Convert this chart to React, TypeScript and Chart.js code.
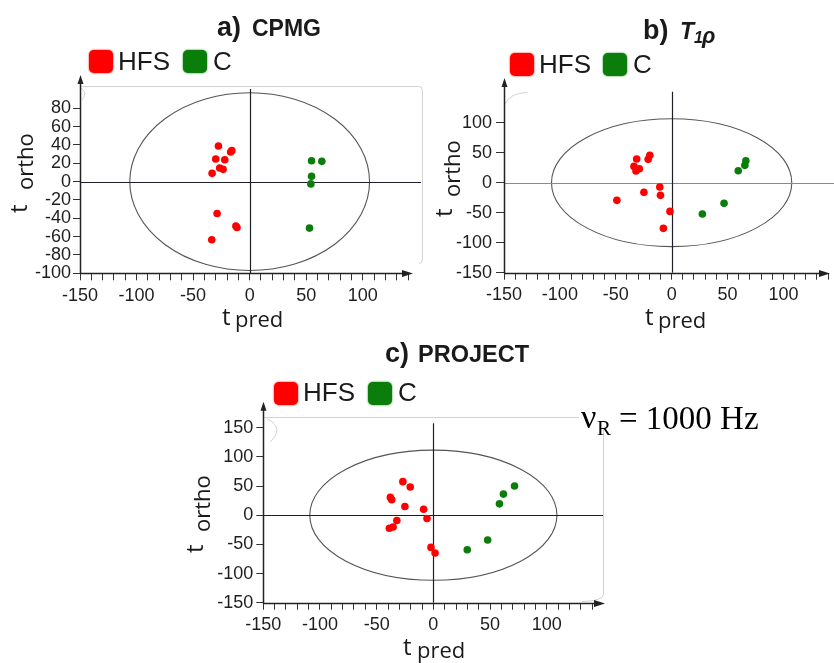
import React, { useEffect, useRef } from "react";
import { Chart, registerables } from "chart.js";

Chart.register(...registerables);

// ---------- data ----------
const SERIES_NAMES = ["HFS", "C"];
const SERIES_COLORS = ["#ff0000", "#0b7d0b"];

// a) CPMG
const cpmgHfsX = [-27.6, -16.8, -15.8, -30, -22, -26.5, -23.5, -33.2, -28.8, -12.2, -11.2, -33.5];
const cpmgHfsY = [38.8, 32.3, 33.8, 24.6, 23.9, 14.9, 13.4, 9, -34.8, -48.4, -50, -63.4];
const cpmgCX = [54.7, 63.8, 54.7, 54.1, 52.9];
const cpmgCY = [22.8, 22.1, 5.8, -2.5, -50.7];
const cpmgEllipse = [106, 97];

// b) T1rho
const t1rHfsX = [-31.3, -21, -19.5, -33.7, -28.9, -31.9, -10.6, -24.8, -10, -49, -1.5, -7.4];
const t1rHfsY = [39.4, 38.9, 45.6, 27.2, 23.3, 19.4, -7.2, -16.1, -21.1, -29.4, -47.8, -76.1];
const t1rCX = [66.4, 65.5, 59.6, 46.9, 27.5];
const t1rCY = [36.7, 28.9, 20, -34.4, -52.2];
const t1rEllipse = [107.5, 106.5];

// c) PROJECT
const projHfsX = [-26.9, -20.4, -37.9, -36.7, -25.1, -8.6, -5.6, -32.2, -35.5, -38.8, -2.1, 1.5];
const projHfsY = [57.5, 48.3, 30.5, 26.4, 14.9, 10.3, -5.7, -9.2, -20.1, -22.4, -55.2, -64.9];
const projCX = [71.6, 61.8, 58.3, 47.9, 29.9];
const projCY = [50, 36.2, 19.5, -42.5, -59.2];
const projEllipse = [109, 111.5];

// ticks
const xMajorTicks = [-150, -100, -50, 0, 50, 100];
const xMinorStep = 10;
const xMinorLast = 140;
const cpmgYTicks = [-100, -80, -60, -40, -20, 0, 20, 40, 60, 80];
const t1rYTicks = [-150, -100, -50, 0, 50, 100];
const projYTicks = [-150, -100, -50, 0, 50, 100, 150];

// ---------- layout / style ----------
const YW = 60;
const XH = 40;
const TICK_FONT = { family: '"Liberation Sans", Arial, sans-serif', size: 18 };
const AXT = '"Open Sans", sans-serif';
const SANS = '"Liberation Sans", Arial, sans-serif';
const SERIF = '"Liberation Serif", "DejaVu Serif", serif';

type Txt = { t: string; x: number; y: number; font: string; rot?: boolean; color?: string };

type PanelCfg = {
  box: { x: number; y: number; w: number; h: number };
  area: { l: number; t: number; r: number; b: number };
  xRange: [number, number];
  yRange: [number, number];
  yTicks: number[];
  hfs: [number[], number[]];
  c: [number[], number[]];
  ellipse: number[];
  yTickLen: number;
  yPad: number;
  zeroRight: number;
  zeroTop: number;
  zeroHColor: string;
  frame?: (ctx: CanvasRenderingContext2D) => void;
  legend: { x: number; y: number; textX: number; base: number; x2: number; textX2: number };
  texts: Txt[];
};

const pts = (xs: number[], ys: number[]) => xs.map((x, i) => ({ x, y: ys[i] }));

const panels: PanelCfg[] = [
  {
    box: { x: 0, y: 0, w: 425, h: 336 },
    area: { l: 80, t: 75, r: 413, b: 273.3 },
    xRange: [-150, 144.4],
    yRange: [-100, 116.3],
    yTicks: cpmgYTicks,
    hfs: [cpmgHfsX, cpmgHfsY],
    c: [cpmgCX, cpmgCY],
    ellipse: cpmgEllipse,
    yTickLen: 7,
    yPad: 2,
    zeroRight: 421,
    zeroTop: 89,
    zeroHColor: "#1e1e33",
    frame: (ctx) => {
      ctx.beginPath();
      ctx.moveTo(80, 86.5);
      ctx.lineTo(418.5, 86.5);
      ctx.quadraticCurveTo(422.5, 86.5, 422.5, 90.5);
      ctx.lineTo(422.5, 259);
      ctx.quadraticCurveTo(422.5, 263, 419, 263.5);
      ctx.stroke();
      ctx.beginPath();
      ctx.moveTo(81, 88);
      ctx.quadraticCurveTo(88, 93, 82, 100);
      ctx.stroke();
    },
    legend: { x: 89, y: 50, textX: 118, base: 70, x2: 183, textX2: 213 },
    texts: [
      { t: "a)", x: 217, y: 36, font: `bold 27px ${SANS}` },
      { t: "CPMG", x: 252, y: 36, font: `bold 23px ${SANS}` },
      { t: "t", x: 222, y: 325, font: `24px ${AXT}` },
      { t: "pred", x: 235, y: 327, font: `22px ${AXT}` },
      { t: "t", x: 27, y: 213, font: `24px ${AXT}`, rot: true },
      { t: "ortho", x: 33, y: 190, font: `22px ${AXT}`, rot: true },
    ],
  },
  {
    box: { x: 425, y: 0, w: 409, h: 336 },
    area: { l: 504, t: 78, r: 833, b: 272.7 },
    xRange: [-150, 141.7],
    yRange: [-150, 174.5],
    yTicks: t1rYTicks,
    hfs: [t1rHfsX, t1rHfsY],
    c: [t1rCX, t1rCY],
    ellipse: t1rEllipse,
    yTickLen: 8,
    yPad: 4,
    zeroRight: 834,
    zeroTop: 91.7,
    zeroHColor: "#8a8a8a",
    frame: (ctx) => {
      ctx.beginPath();
      ctx.moveTo(505, 104);
      ctx.quadraticCurveTo(510, 93, 527, 92.5);
      ctx.stroke();
    },
    legend: { x: 510, y: 53, textX: 539, base: 72.7, x2: 603, textX2: 633 },
    texts: [
      { t: "b)", x: 643, y: 39, font: `bold 27px ${SANS}` },
      { t: "T", x: 680, y: 38.5, font: `italic bold 23px ${SANS}` },
      { t: "1", x: 694, y: 43, font: `italic bold 16px ${SANS}` },
      { t: "ρ", x: 702, y: 43, font: `italic bold 22px ${SANS}` },
      { t: "t", x: 645, y: 325, font: `24px ${AXT}` },
      { t: "pred", x: 658, y: 328, font: `22px ${AXT}` },
      { t: "t", x: 452, y: 217, font: `24px ${AXT}`, rot: true },
      { t: "ortho", x: 460, y: 197, font: `22px ${AXT}`, rot: true },
    ],
  },
  {
    box: { x: 180, y: 336, w: 654, h: 327 },
    area: { l: 263.3, t: 401.7, r: 605, b: 602.7 },
    xRange: [-150, 151.4],
    yRange: [-150, 194.6],
    yTicks: projYTicks,
    hfs: [projHfsX, projHfsY],
    c: [projCX, projCY],
    ellipse: projEllipse,
    yTickLen: 7,
    yPad: 3,
    zeroRight: 603,
    zeroTop: 423.3,
    zeroHColor: "#1e1e1e",
    frame: (ctx) => {
      ctx.beginPath();
      ctx.moveTo(263.3, 417.5);
      ctx.lineTo(579, 417.5);
      ctx.moveTo(603.5, 428);
      ctx.lineTo(603.5, 594);
      ctx.quadraticCurveTo(603.5, 601, 582, 601.5);
      ctx.stroke();
      ctx.beginPath();
      ctx.moveTo(267, 418.5);
      ctx.quadraticCurveTo(285, 428, 270, 442);
      ctx.stroke();
    },
    legend: { x: 274, y: 382, textX: 303, base: 400.7, x2: 368, textX2: 398 },
    texts: [
      { t: "c)", x: 385, y: 361.7, font: `bold 27px ${SANS}` },
      { t: "PROJECT", x: 418, y: 361.7, font: `bold 23.5px ${SANS}` },
      { t: "t", x: 403, y: 655, font: `24px ${AXT}` },
      { t: "pred", x: 417, y: 658, font: `22px ${AXT}` },
      { t: "t", x: 203, y: 553, font: `24px ${AXT}`, rot: true },
      { t: "ortho", x: 210, y: 532, font: `22px ${AXT}`, rot: true },
      { t: "ν", x: 581, y: 428, font: `34px ${SERIF}`, color: "#000" },
      { t: "R", x: 597, y: 435, font: `21px ${SERIF}`, color: "#000" },
      { t: "= 1000 Hz", x: 619, y: 429, font: `33px ${SERIF}`, color: "#000" },
    ],
  },
];

function makeDecor(cfg: PanelCfg) {
  const ox = cfg.box.x;
  const oy = cfg.box.y;
  return {
    id: "decor",
    beforeDatasetsDraw(chart: any) {
      const ctx: CanvasRenderingContext2D = chart.ctx;
      const xs = chart.scales.x;
      const ys = chart.scales.y;
      const ca = chart.chartArea;
      ctx.save();
      if (cfg.frame) {
        ctx.save();
        ctx.translate(-ox, -oy);
        ctx.strokeStyle = "#d2d2d2";
        ctx.lineWidth = 1;
        cfg.frame(ctx);
        ctx.restore();
      }
      const x0 = xs.getPixelForValue(0);
      const y0 = ys.getPixelForValue(0);
      const rx = xs.getPixelForValue(cfg.ellipse[0]) - x0;
      const ry = y0 - ys.getPixelForValue(cfg.ellipse[1]);
      ctx.strokeStyle = "#555";
      ctx.lineWidth = 1.1;
      ctx.beginPath();
      ctx.ellipse(x0, y0, rx, ry, 0, 0, Math.PI * 2);
      ctx.stroke();
      const hy = Math.round(y0) + 0.5;
      ctx.strokeStyle = cfg.zeroHColor;
      ctx.lineWidth = 1.2;
      ctx.beginPath();
      ctx.moveTo(ca.left, hy);
      ctx.lineTo(cfg.zeroRight - ox, hy);
      ctx.stroke();
      const vx = Math.round(x0) + 0.5;
      ctx.strokeStyle = "#1e1e2a";
      ctx.beginPath();
      ctx.moveTo(vx, cfg.zeroTop - oy);
      ctx.lineTo(vx, ca.bottom);
      ctx.stroke();
      const L = Math.round(ca.left) + 0.5;
      const B = Math.round(ca.bottom) + 0.5;
      ctx.strokeStyle = "#222";
      ctx.fillStyle = "#222";
      ctx.lineWidth = 1.5;
      ctx.beginPath();
      ctx.moveTo(L, B);
      ctx.lineTo(ca.right - 8, B);
      ctx.moveTo(L, B);
      ctx.lineTo(L, ca.top + 7);
      ctx.stroke();
      ctx.beginPath();
      ctx.moveTo(ca.right, B);
      ctx.lineTo(ca.right - 11, B - 3.5);
      ctx.lineTo(ca.right - 11, B + 3.5);
      ctx.closePath();
      ctx.fill();
      ctx.beginPath();
      ctx.moveTo(L, ca.top);
      ctx.lineTo(L - 3, ca.top + 9);
      ctx.lineTo(L + 3, ca.top + 9);
      ctx.closePath();
      ctx.fill();
      ctx.restore();
    },
    afterDraw(chart: any) {
      const ctx: CanvasRenderingContext2D = chart.ctx;
      ctx.save();
      ctx.translate(-ox, -oy);
      const lg = cfg.legend;
      const sqX = [lg.x, lg.x2];
      const txX = [lg.textX, lg.textX2];
      SERIES_NAMES.forEach((name, i) => {
        ctx.save();
        ctx.fillStyle = SERIES_COLORS[i];
        ctx.shadowColor = SERIES_COLORS[i];
        ctx.shadowBlur = 2;
        ctx.beginPath();
        (ctx as any).roundRect(sqX[i], lg.y, 24, 23, 5);
        ctx.fill();
        ctx.restore();
        ctx.fillStyle = "#1a1a1a";
        ctx.font = `26px ${SANS}`;
        ctx.textBaseline = "alphabetic";
        ctx.textAlign = "left";
        ctx.fillText(name, txX[i], lg.base);
      });
      cfg.texts.forEach((tx) => {
        ctx.save();
        ctx.fillStyle = tx.color || "#1a1a1a";
        ctx.font = tx.font;
        ctx.textBaseline = "alphabetic";
        ctx.textAlign = "left";
        if (tx.rot) {
          ctx.translate(tx.x, tx.y);
          ctx.rotate(-Math.PI / 2);
          ctx.fillText(tx.t, 0, 0);
        } else {
          ctx.fillText(tx.t, tx.x, tx.y);
        }
        ctx.restore();
      });
      ctx.restore();
    },
  };
}

function Panel({ cfg }: { cfg: PanelCfg }) {
  const ref = useRef<HTMLCanvasElement | null>(null);
  useEffect(() => {
    if (!ref.current) return;
    const { box, area } = cfg;
    const chart = new Chart(ref.current, {
      type: "scatter",
      data: {
        datasets: [
          {
            label: SERIES_NAMES[0],
            data: pts(cfg.hfs[0], cfg.hfs[1]),
            backgroundColor: SERIES_COLORS[0],
            borderWidth: 0,
            pointRadius: 3.8,
          },
          {
            label: SERIES_NAMES[1],
            data: pts(cfg.c[0], cfg.c[1]),
            backgroundColor: SERIES_COLORS[1],
            borderWidth: 0,
            pointRadius: 3.8,
          },
        ],
      },
      options: {
        animation: false,
        responsive: false,
        maintainAspectRatio: false,
        devicePixelRatio: 1,
        events: [],
        layout: {
          padding: {
            left: area.l - box.x - YW,
            top: area.t - box.y,
            right: box.x + box.w - area.r,
            bottom: box.y + box.h - area.b - XH,
          },
        },
        plugins: { legend: { display: false }, tooltip: { enabled: false }, title: { display: false } },
        scales: {
          x: {
            type: "linear",
            min: cfg.xRange[0],
            max: cfg.xRange[1],
            border: { display: false },
            grid: { drawOnChartArea: false, drawTicks: true, tickLength: 7, tickColor: "#333", tickWidth: 1 },
            afterBuildTicks: (s: any) => {
              const t: { value: number }[] = [];
              for (let v = cfg.xRange[0]; v <= xMinorLast; v += xMinorStep) t.push({ value: v });
              s.ticks = t;
            },
            afterFit: (s: any) => {
              s.height = XH;
            },
            ticks: {
              autoSkip: false,
              maxRotation: 0,
              minRotation: 0,
              padding: 5,
              color: "#1e1e1e",
              font: TICK_FONT,
              callback: (v: any) => (xMajorTicks.includes(Number(v)) ? String(v) : ""),
            },
          },
          y: {
            type: "linear",
            min: cfg.yRange[0],
            max: cfg.yRange[1],
            border: { display: false },
            grid: { drawOnChartArea: false, drawTicks: true, tickLength: cfg.yTickLen, tickColor: "#333", tickWidth: 1 },
            afterBuildTicks: (s: any) => {
              s.ticks = cfg.yTicks.map((v) => ({ value: v }));
            },
            afterFit: (s: any) => {
              s.width = YW;
            },
            ticks: {
              autoSkip: false,
              padding: cfg.yPad,
              color: "#1e1e1e",
              font: TICK_FONT,
              callback: (v: any) => String(v),
            },
          },
        },
      },
      plugins: [makeDecor(cfg)],
    } as any);
    return () => chart.destroy();
  }, [cfg]);
  return (
    <canvas
      ref={ref}
      width={cfg.box.w}
      height={cfg.box.h}
      style={{ position: "absolute", left: cfg.box.x, top: cfg.box.y, width: cfg.box.w, height: cfg.box.h }}
    />
  );
}

export default function App() {
  return (
    <div style={{ position: "absolute", left: 0, top: 0, width: 834, height: 663, background: "#fff", overflow: "hidden" }}>
      {panels.map((p, i) => (
        <Panel key={i} cfg={p} />
      ))}
    </div>
  );
}
